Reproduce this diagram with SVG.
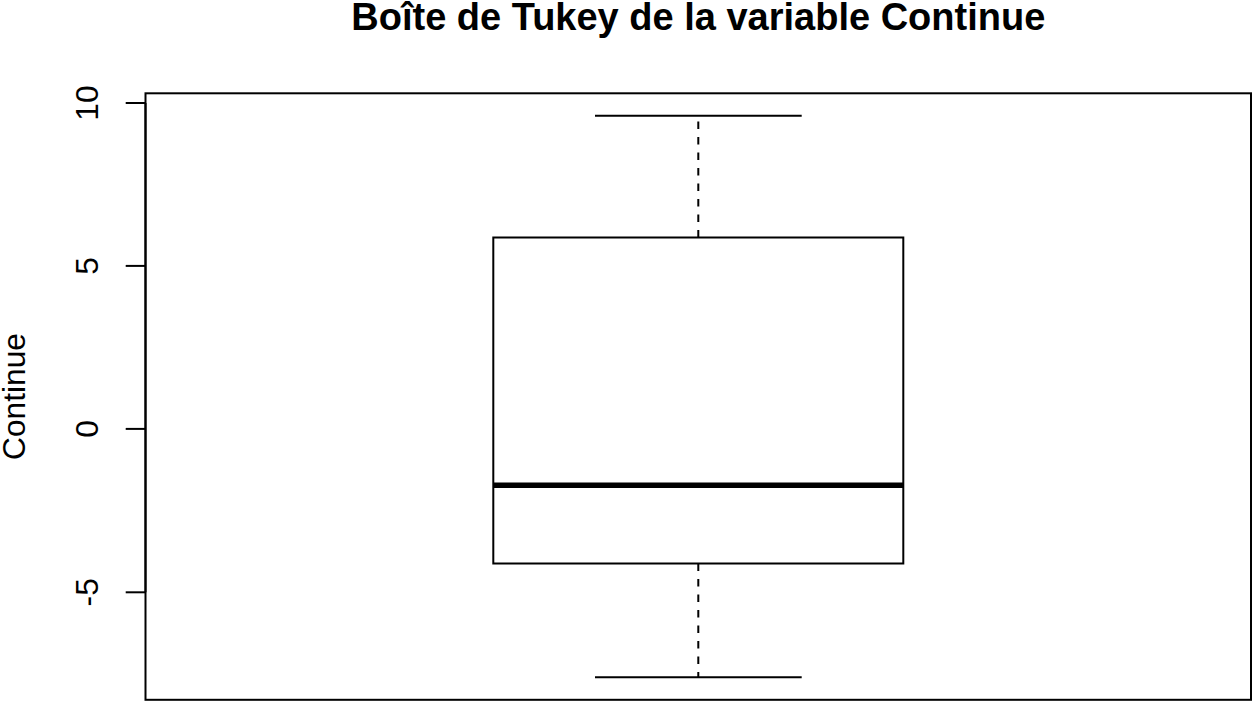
<svg xmlns="http://www.w3.org/2000/svg" width="1253" height="702" viewBox="0 0 1253 702">
<style>
.ln{stroke:#000;stroke-width:2;fill:none}
.dash{stroke:#000;stroke-width:2;fill:none;stroke-dasharray:7.5 8}
.med{stroke:#000;stroke-width:5.5;fill:none}
.lab{font-family:"Liberation Sans",Arial,Helvetica,sans-serif;font-size:31.7px;fill:#000}
.title{font-family:"Liberation Sans",Arial,Helvetica,sans-serif;font-size:38px;font-weight:bold;fill:#000}
</style>
<rect width="1253" height="702" fill="#fff"/>
<text class="title" x="698.3" y="30" text-anchor="middle">Boîte de Tukey de la variable Continue</text>
<g id="frame">
<rect class="ln" x="145.5" y="93.3" width="1105.5" height="606.5"/>
</g>
<g id="y-axis">
<line class="ln" x1="145.5" y1="103" x2="145.5" y2="592.3"/>
<line class="ln" x1="125.7" y1="103" x2="145.5" y2="103"/>
<line class="ln" x1="125.7" y1="265.9" x2="145.5" y2="265.9"/>
<line class="ln" x1="125.7" y1="428.9" x2="145.5" y2="428.9"/>
<line class="ln" x1="125.7" y1="592.3" x2="145.5" y2="592.3"/>
<text class="lab" transform="translate(98,103) rotate(-90)" text-anchor="middle">10</text>
<text class="lab" transform="translate(98,265.9) rotate(-90)" text-anchor="middle">5</text>
<text class="lab" transform="translate(98,428.9) rotate(-90)" text-anchor="middle">0</text>
<text class="lab" transform="translate(98,592.3) rotate(-90)" text-anchor="middle">-5</text>
<text class="lab" transform="translate(25,396.5) rotate(-90)" text-anchor="middle">Continue</text>
</g>
<g id="boxplot">
<line class="dash" x1="698.3" y1="237.5" x2="698.3" y2="115.7"/>
<line class="dash" x1="698.3" y1="563.5" x2="698.3" y2="677.3"/>
<line class="ln" x1="595" y1="115.7" x2="801.7" y2="115.7"/>
<line class="ln" x1="595" y1="677.3" x2="801.7" y2="677.3"/>
<rect class="ln" x="493.3" y="237.5" width="410" height="326"/>
<line class="med" x1="493.3" y1="485.2" x2="903.3" y2="485.2"/>
</g>
</svg>
